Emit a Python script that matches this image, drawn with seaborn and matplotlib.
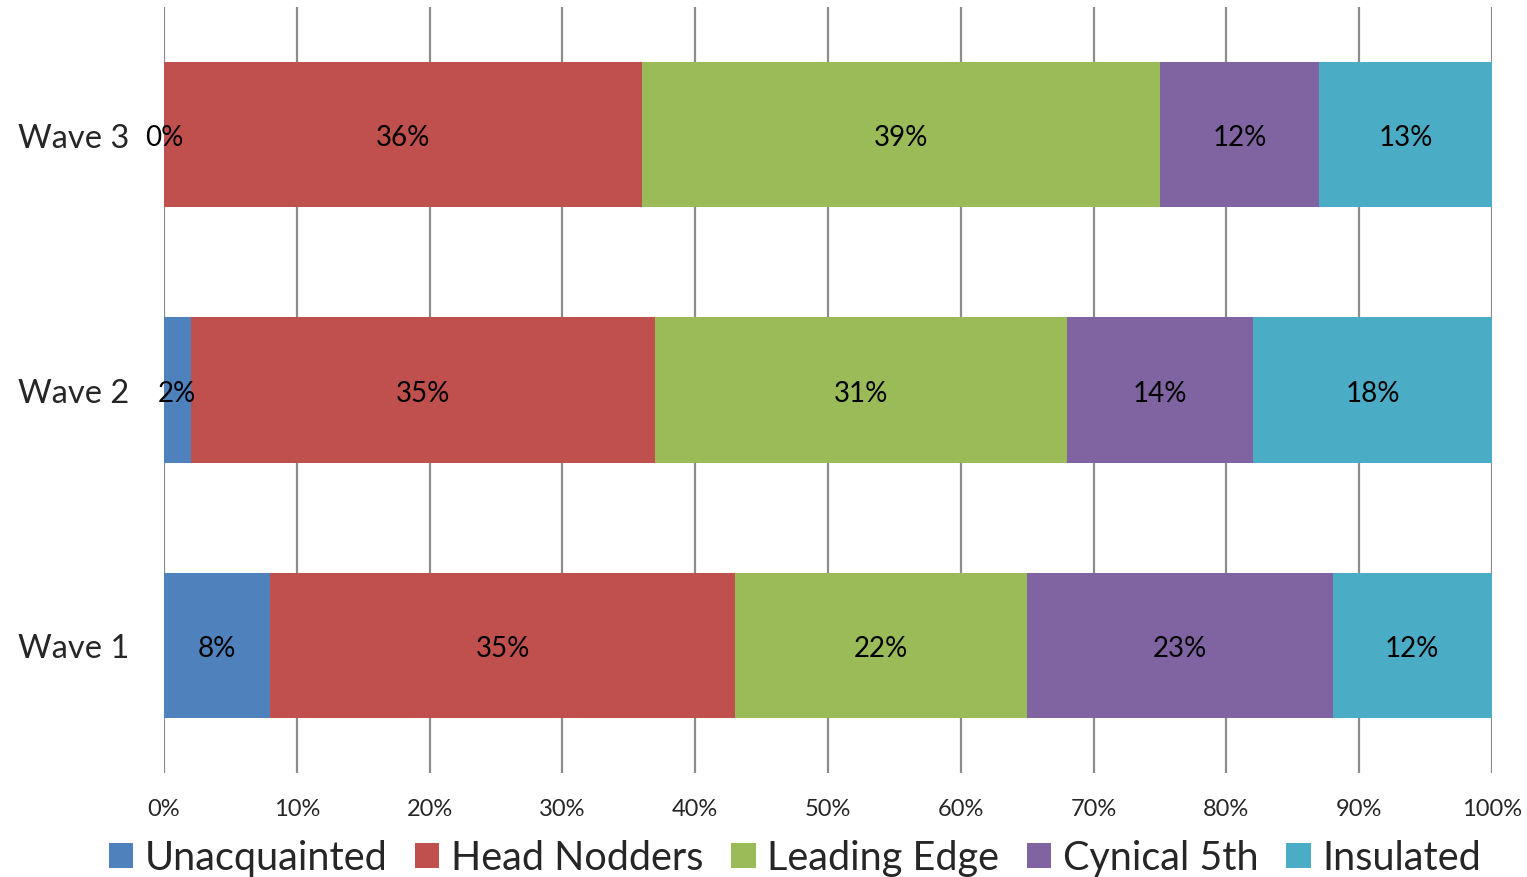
import numpy as np
import pandas as pd
import matplotlib
matplotlib.use("Agg")
import matplotlib.pyplot as plt
import seaborn as sns
from matplotlib.patches import Patch

waves = ["Wave 3", "Wave 2", "Wave 1"]
segments = ["Unacquainted", "Head Nodders", "Leading Edge", "Cynical 5th", "Insulated"]
unacquainted = [0, 2, 8]
head_nodders = [36, 35, 35]
leading_edge = [39, 31, 22]
cynical_5th = [12, 14, 23]
insulated = [13, 18, 12]
colors = ["#4F81BD", "#C0504D", "#9BBB59", "#8064A2", "#4BACC6"]
tick_values = list(range(0, 101, 10))

sns.set_theme(style="white")
plt.rcParams["font.family"] = ["Lato", "DejaVu Sans"]

df = pd.DataFrame({"wave": waves})
series = [unacquainted, head_nodders, leading_edge, cynical_5th, insulated]
for name, vals in zip(segments, series):
    df[name] = vals
cum = df[segments].cumsum(axis=1)

fig = plt.figure(figsize=(15.27, 8.78), dpi=100)
ax = fig.add_axes([164 / 1527, 1 - 774 / 878, (1492 - 164) / 1527, (774 - 8) / 878])

# vertical gridlines behind the bars
for t in tick_values:
    ax.axvline(t, color="#8c8c8c", lw=1.6, zorder=0)

# stacked bars: draw cumulative totals from the outermost segment inward
for i in range(len(segments) - 1, -1, -1):
    sns.barplot(data=cum.assign(wave=df["wave"]), x=segments[i], y="wave",
                order=waves, color=colors[i], saturation=1, width=0.57,
                ax=ax, zorder=2, linewidth=0)

# value labels at the middle of each segment
for r, w in enumerate(waves):
    left = 0
    for name in segments:
        v = df.loc[r, name]
        ax.text(left + v / 2, r + 0.01, f"{v}%", ha="center", va="center",
                fontsize=20, color="black", zorder=5)
        left += v

ax.set_xlim(0, 100)
ax.set_ylim(2.5, -0.5)
ax.set_xticks(tick_values)
ax.set_xticklabels([f"{t}%" for t in tick_values], fontsize=17)
ax.tick_params(axis="x", length=0, pad=18)
ax.tick_params(axis="y", length=0, pad=25, labelsize=23.5)
ax.set_xlabel("")
ax.set_ylabel("")
for s in ax.spines.values():
    s.set_visible(False)

handles = [Patch(facecolor=c, edgecolor="none") for c in colors]
fig.legend(handles, segments, loc="center", bbox_to_anchor=(795 / 1527, 1 - 859 / 878),
           ncol=5, frameon=False, fontsize=28.5, handlelength=0.61, handleheight=0.61,
           handletextpad=0.3, columnspacing=0.7)

fig.savefig("out.png", dpi=100)
